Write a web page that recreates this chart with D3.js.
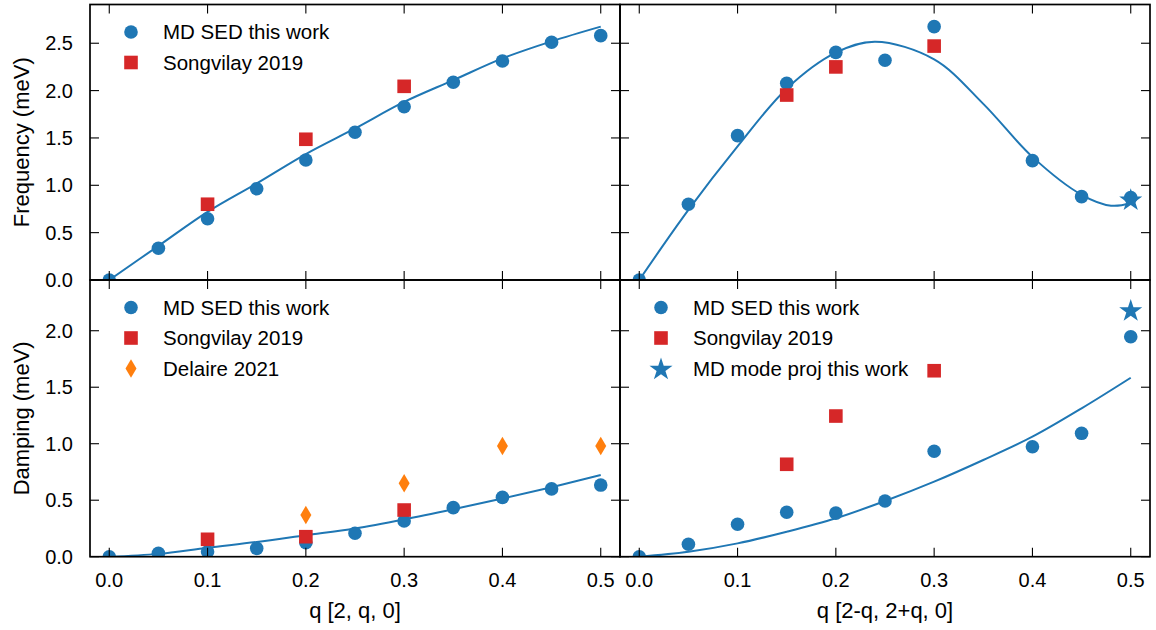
<!DOCTYPE html>
<html>
<head>
<meta charset="utf-8">
<script src="https://cdn.jsdelivr.net/npm/d3@7"></script>
<style>
  body { margin: 0; background: #fff; }
  text { font-family: "Liberation Sans", Arial, sans-serif; fill: #000; }
</style>
</head>
<body>
<svg id="chart" width="1156" height="630"></svg>
<script>
// q values along each direction
var qA = [0, 0.05, 0.1, 0.15, 0.2, 0.25, 0.3, 0.35, 0.4, 0.45, 0.5];
var qB = [0, 0.05, 0.1, 0.15, 0.2, 0.25, 0.3, 0.4, 0.45, 0.5];
var qSongA = [0.1, 0.2, 0.3];
var qSongB = [0.15, 0.2, 0.3];
var qDelaire = [0.2, 0.3, 0.4, 0.5];
var qStar = [0.5];
var qFitB = [0, 0.05, 0.1, 0.15, 0.2, 0.24, 0.3, 0.35, 0.4, 0.45, 0.48, 0.5];

// frequency, [2, q, 0]
var sedFreqA = [0, 0.335, 0.647, 0.964, 1.267, 1.56, 1.83, 2.088, 2.313, 2.51, 2.58];
var songFreqA = [0.80, 1.486, 2.045];
var fitFreqA = [0, 0.36, 0.72, 1.02, 1.33, 1.60, 1.88, 2.11, 2.34, 2.52, 2.675];

// frequency, [2-q, 2+q, 0]
var sedFreqB = [0, 0.80, 1.524, 2.077, 2.404, 2.32, 2.675, 1.26, 0.88, 0.87];
var songFreqB = [1.953, 2.25, 2.47];
var starFreqB = [0.852];
var fitFreqB = [0, 0.74, 1.41, 2.02, 2.40, 2.515, 2.33, 1.86, 1.30, 0.90, 0.785, 0.81];

// damping, [2, q, 0]
var sedDampA = [0, 0.03, 0.044, 0.074, 0.124, 0.207, 0.316, 0.434, 0.525, 0.60, 0.634];
var songDampA = [0.154, 0.177, 0.413];
var delaireDampA = [0.369, 0.65, 0.98, 0.98];
var fitDampA = [0, 0.025, 0.08, 0.13, 0.19, 0.25, 0.33, 0.42, 0.515, 0.615, 0.723];

// damping, [2-q, 2+q, 0]
var sedDampB = [0, 0.11, 0.287, 0.393, 0.386, 0.493, 0.933, 0.973, 1.092, 1.947];
var songDampB = [0.818, 1.245, 1.646];
var starDampB = [2.183];
var fitDampB = [0, 0.044, 0.118, 0.221, 0.34, 0.493, 0.664, 0.856, 1.062, 1.313, 1.584];

var xTicks = [0, 0.1, 0.2, 0.3, 0.4, 0.5];
var freqTicks = [0, 0.5, 1.0, 1.5, 2.0, 2.5];
var dampTicks = [0, 0.5, 1.0, 1.5, 2.0];

var BLUE = "#1f77b4", RED = "#d62728", ORANGE = "#ff7f0e";

var svg = d3.select("#chart");
var TICK = 9;

function zip(xs, ys) { return xs.map(function(x, i) { return [x, ys[i]]; }); }

//-----------------------------------------------------------------------------------
// marker drawing
//-----------------------------------------------------------------------------------
function marker(g, kind, x, y) {
	if (kind === "circle") {
		g.append("circle").attr("cx", x).attr("cy", y).attr("r", 6.8).style("fill", BLUE);
	} else if (kind === "square") {
		g.append("rect").attr("x", x - 6.8).attr("y", y - 6.8).attr("width", 13.6).attr("height", 13.6).style("fill", RED);
	} else if (kind === "diamond") {
		g.append("path").attr("d", "M" + x + "," + (y - 9.2) + "L" + (x + 5.5) + "," + y + "L" + x + "," + (y + 9.2) + "L" + (x - 5.5) + "," + y + "Z")
			.style("fill", ORANGE);
	} else if (kind === "star") {
		g.append("path").attr("d", d3.symbol().type(d3.symbolStar).size(165)())
			.attr("transform", "translate(" + x + "," + (y + 1) + ")")
			.style("fill", BLUE);
	}
}

//-----------------------------------------------------------------------------------
// one panel
//-----------------------------------------------------------------------------------
function panel(p) {
	var x = d3.scaleLinear().domain([-0.0196, 0.5196]).range([p.left, p.right]);
	var y = d3.scaleLinear().domain([0, p.ymax]).range([p.bottom, p.top]);
	var g = svg.append("g");

	var clipId = "clip" + p.id;
	svg.append("clipPath").attr("id", clipId).append("rect")
		.attr("x", p.left).attr("y", p.top).attr("width", p.right - p.left).attr("height", p.bottom - p.top);
	var data = g.append("g").attr("clip-path", "url(#" + clipId + ")");

	data.append("path")
		.datum(zip(p.fitQ, p.fit))
		.attr("d", d3.line().x(function(d) { return x(d[0]); }).y(function(d) { return y(d[1]); }).curve(d3.curveCatmullRom.alpha(0.5)))
		.style("fill", "none").style("stroke", BLUE).style("stroke-width", 2);

	p.series.forEach(function(s) {
		zip(s.q, s.v).forEach(function(d) { marker(data, s.kind, x(d[0]), y(d[1])); });
	});

	// ticks, inward on all four sides
	var ax = g.append("g").style("stroke", "#000").style("stroke-width", 1.1);
	xTicks.forEach(function(t) {
		ax.append("line").attr("x1", x(t)).attr("x2", x(t)).attr("y1", p.bottom).attr("y2", p.bottom - TICK);
		ax.append("line").attr("x1", x(t)).attr("x2", x(t)).attr("y1", p.top).attr("y2", p.top + TICK);
	});
	p.yTicks.forEach(function(t) {
		ax.append("line").attr("x1", p.left).attr("x2", p.left + TICK).attr("y1", y(t)).attr("y2", y(t));
		ax.append("line").attr("x1", p.right).attr("x2", p.right - TICK).attr("y1", y(t)).attr("y2", y(t));
	});

	g.append("rect").attr("x", p.left).attr("y", p.top).attr("width", p.right - p.left).attr("height", p.bottom - p.top)
		.style("fill", "none").style("stroke", "#000").style("stroke-width", 1.7);

	if (p.yLabels) {
		p.yTicks.forEach(function(t) {
			g.append("text").attr("x", p.left - 17).attr("y", y(t) + 7.2).attr("text-anchor", "end")
				.style("font-size", "20px").text(t.toFixed(1));
		});
		g.append("text").attr("transform", "translate(29," + ((p.top + p.bottom) / 2) + ") rotate(-90)")
			.attr("text-anchor", "middle").style("font-size", "22px").text(p.yTitle);
	}
	if (p.xLabels) {
		xTicks.forEach(function(t) {
			g.append("text").attr("x", x(t)).attr("y", 587.3).attr("text-anchor", "middle")
				.style("font-size", "20px").text(t.toFixed(1));
		});
		g.append("text").attr("x", (p.left + p.right) / 2).attr("y", 618).attr("text-anchor", "middle")
			.style("font-size", "22px").text(p.xTitle);
	}

	// legend
	p.legend.forEach(function(l, i) {
		var ly = p.top + 27.5 + i * 30.5;
		marker(g, l[0], p.left + 41, ly);
		g.append("text").attr("x", p.left + 73).attr("y", ly + 7.2).style("font-size", "20.5px").text(l[1]);
	});
}

var L = { sed: ["circle", "MD SED this work"], song: ["square", "Songvilay 2019"],
	del: ["diamond", "Delaire 2021"], star: ["star", "MD mode proj this work"] };

panel({ id: 1, left: 90, right: 620, top: 4.5, bottom: 280, ymax: 2.909, yTicks: freqTicks,
	yLabels: true, yTitle: "Frequency (meV)", xLabels: false,
	fitQ: qA, fit: fitFreqA,
	series: [{ kind: "circle", q: qA, v: sedFreqA }, { kind: "square", q: qSongA, v: songFreqA }],
	legend: [L.sed, L.song] });

panel({ id: 2, left: 620, right: 1150, top: 4.5, bottom: 280, ymax: 2.909, yTicks: freqTicks,
	yLabels: false, xLabels: false,
	fitQ: qFitB, fit: fitFreqB,
	series: [{ kind: "circle", q: qB, v: sedFreqB }, { kind: "square", q: qSongB, v: songFreqB },
		{ kind: "star", q: qStar, v: starFreqB }],
	legend: [] });

panel({ id: 3, left: 90, right: 620, top: 280, bottom: 556.7, ymax: 2.449, yTicks: dampTicks,
	yLabels: true, yTitle: "Damping (meV)", xLabels: true, xTitle: "q [2, q, 0]",
	fitQ: qA, fit: fitDampA,
	series: [{ kind: "circle", q: qA, v: sedDampA }, { kind: "square", q: qSongA, v: songDampA },
		{ kind: "diamond", q: qDelaire, v: delaireDampA }],
	legend: [L.sed, L.song, L.del] });

panel({ id: 4, left: 620, right: 1150, top: 280, bottom: 556.7, ymax: 2.449, yTicks: dampTicks,
	yLabels: false, xLabels: true, xTitle: "q [2-q, 2+q, 0]",
	fitQ: qA, fit: fitDampB,
	series: [{ kind: "circle", q: qB, v: sedDampB }, { kind: "square", q: qSongB, v: songDampB },
		{ kind: "star", q: qStar, v: starDampB }],
	legend: [L.sed, L.song, L.star] });
</script>
</body>
</html>
